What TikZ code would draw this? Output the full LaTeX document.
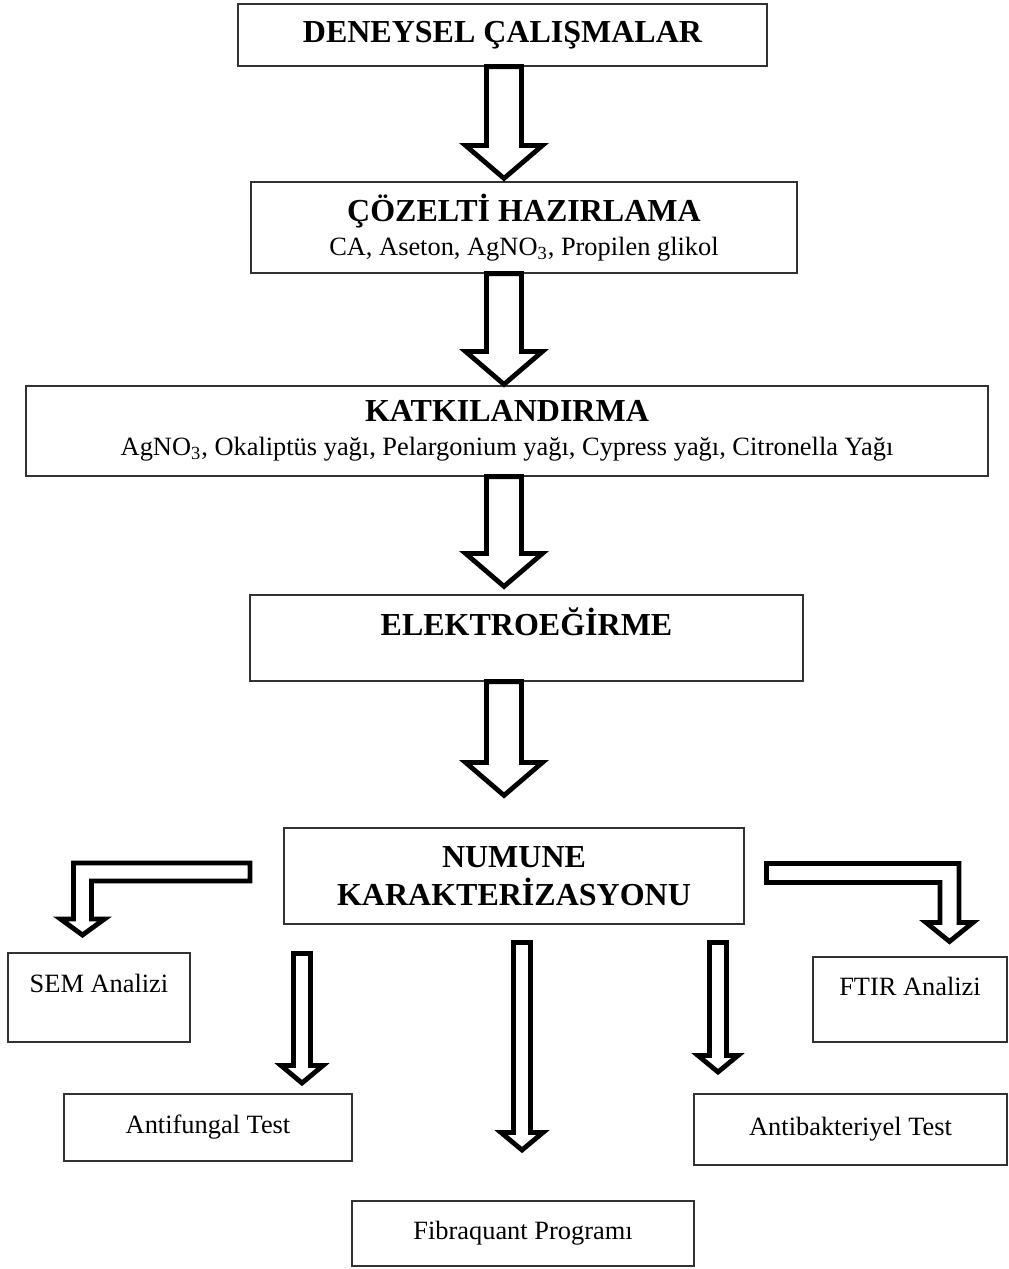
\documentclass[tikz,border=0pt]{standalone}
\usepackage{fontspec}
\setmainfont{Liberation Serif}
\usetikzlibrary{positioning,calc}
\definecolor{box_gray}{RGB}{50,50,50}
\newcommand{\titlefont}{\fontsize{16}{19}\selectfont\bfseries}
\newcommand{\itemfont}{\fontsize{13.2}{17}\selectfont}
% hollow block arrow pointing down
\newcommand{\blockdown}[5]{%
  \draw[blk] let \p1=#1, \p2=#2 in
    (\x2-#3,\y1) -- (\x2-#3,\y2+#5) -- (\x2-#4,\y2+#5) -- (\x2,\y2)
    -- (\x2+#4,\y2+#5) -- (\x2+#3,\y2+#5) -- (\x2+#3,\y1) -- cycle;}
% hollow block arrow going sideways, then down
\newcommand{\blockbent}[5]{%
  \draw[blk] let \p1=#1, \p2=#2, \n1={sign(\x2-\x1)} in
    (\x1,\y1+#3) -- ({\x2+\n1*#3},\y1+#3) -- ({\x2+\n1*#3},\y2+#5)
    -- ({\x2+\n1*#4},\y2+#5) -- (\x2,\y2) -- ({\x2-\n1*#4},\y2+#5)
    -- ({\x2-\n1*#3},\y2+#5) -- ({\x2-\n1*#3},\y1-#3) -- (\x1,\y1-#3) -- cycle;}

\begin{document}
\begin{tikzpicture}[x=0.5pt,y=-0.5pt]
    \tikzstyle{box}=[draw=box_gray, line width=0.6pt, inner sep=0pt, align=center, font=\itemfont]
    \tikzstyle{head}=[style=box, font=\titlefont]
    \tikzstyle{blk}=[draw=black, fill=white, line width=2.4pt, line join=miter]

    \useasboundingbox (0,0) rectangle (1008,1269);

    \node[head, minimum width=264.5pt, minimum height=31pt] (dene) at (502.5,35) {DENEYSEL ÇALIŞMALAR};
    \node[box, minimum width=273pt, minimum height=45.5pt] (coz) at (524,227.5)
      {{\titlefont ÇÖZELTİ HAZIRLAMA}\\ CA, Aseton, AgNO\textsubscript{3}, Propilen glikol};
    \node[box, minimum width=481pt, minimum height=45pt] (katk) at (507,431)
      {{\titlefont KATKILANDIRMA}\\ AgNO\textsubscript{3}, Okaliptüs yağı, Pelargonium yağı, Cypress yağı, Citronella Yağı};
    \node[head, minimum width=276.5pt, minimum height=43pt, text height=11pt, text depth=13.5pt] (elek) at (526.5,638) {ELEKTROEĞİRME};
    \node[head, minimum width=230pt, minimum height=48pt] (num) at (514,876) {NUMUNE\\KARAKTERİZASYONU};
    \node[box, minimum width=91pt, minimum height=44.5pt, text height=9.5pt, text depth=15pt] (sem) at (99,997.5) {SEM Analizi};
    \node[box, minimum width=97pt, minimum height=42.5pt, text height=9.5pt, text depth=14pt] (ftir) at (910,999.5) {FTIR Analizi};
    \node[box, minimum width=144pt, minimum height=33.5pt] (fung) at (208,1127.5) {Antifungal Test};
    \node[box, minimum width=156.5pt, minimum height=35.5pt] (bakt) at (850.5,1129.5) {Antibakteriyel Test};
    \node[box, minimum width=171pt, minimum height=32.5pt] (fib) at (523,1233.5) {Fibraquant Programı};

    \coordinate (axis) at (504,0);
    \coordinate (semout) at (250,872);
    \coordinate (semin) at (82.5,935);
    \coordinate (ftirout) at (766.5,873);
    \coordinate (ftirin) at (949.5,941.5);
    \coordinate (fungout) at (302,953.5);
    \coordinate (fungin) at (302,1083);
    \coordinate (fibout) at (522,942.5);
    \coordinate (fibin) at (522,1150);
    \coordinate (baktout) at (718,942.5);
    \coordinate (baktin) at (718,1072);

    \blockdown{(dene.south -| axis)}{($(coz.north -| axis)+(0,-3)$)}{8.75pt}{19.25pt}{16.5pt}
    \blockdown{(coz.south -| axis)}{($(katk.north -| axis)+(0,-1)$)}{8.75pt}{19.25pt}{16.5pt}
    \blockdown{(katk.south -| axis)}{($(elek.north -| axis)+(0,-8)$)}{8.75pt}{19.25pt}{16.5pt}
    \blockdown{(elek.south -| axis)}{($(num.north -| axis)+(0,-32)$)}{8.75pt}{19.25pt}{16.5pt}

    \blockbent{(semout)}{(semin)}{4.5pt}{11pt}{8pt}
    \blockbent{(ftirout)}{(ftirin)}{4.75pt}{11.75pt}{9.5pt}

    \blockdown{(fungout)}{(fungin)}{4.25pt}{10.5pt}{8.75pt}
    \blockdown{(fibout)}{(fibin)}{4.25pt}{10.5pt}{8.75pt}
    \blockdown{(baktout)}{(baktin)}{4.25pt}{10pt}{8.25pt}
\end{tikzpicture}
\end{document}
